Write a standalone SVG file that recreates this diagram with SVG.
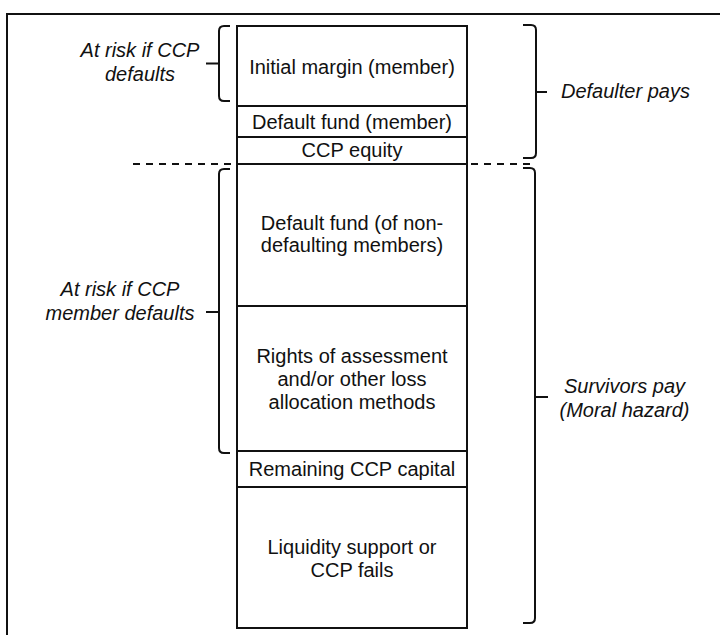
<svg xmlns="http://www.w3.org/2000/svg" width="720" height="635" viewBox="0 0 720 635">
<style>
.box{fill:#fff;stroke:#111;stroke-width:2}
.t{font-family:"Liberation Sans",Arial,sans-serif;font-size:20px;fill:#111;text-anchor:middle}
.i{font-style:italic}
.br{fill:none;stroke:#111;stroke-width:2}
</style>
<rect width="720" height="635" fill="#fff"/>
<path d="M7,635 V14 H720" fill="none" stroke="#111" stroke-width="2"/>
<g id="stack">
<g id="initial-margin"><rect class="box" x="237" y="26" width="230" height="80"/><text class="t" x="352" y="74">Initial margin (member)</text></g>
<g id="default-fund-member"><rect class="box" x="237" y="106" width="230" height="31"/><text class="t" x="352" y="129">Default fund (member)</text></g>
<g id="ccp-equity"><rect class="box" x="237" y="137" width="230" height="27"/><text class="t" x="352" y="157">CCP equity</text></g>
<g id="default-fund-nondefaulting"><rect class="box" x="237" y="164" width="230" height="142"/><text class="t" x="352" y="230">Default fund (of non-</text><text class="t" x="352" y="252">defaulting members)</text></g>
<g id="rights-of-assessment"><rect class="box" x="237" y="306" width="230" height="145"/><text class="t" x="352" y="363">Rights of assessment</text><text class="t" x="352" y="386">and/or other loss</text><text class="t" x="352" y="409">allocation methods</text></g>
<g id="remaining-capital"><rect class="box" x="237" y="451" width="230" height="36"/><text class="t" x="352" y="476">Remaining CCP capital</text></g>
<g id="liquidity-support"><rect class="box" x="237" y="487" width="230" height="141"/><text class="t" x="352" y="554">Liquidity support or</text><text class="t" x="352" y="577">CCP fails</text></g>
</g>
<g id="connectors">
<line x1="133" y1="164" x2="535" y2="164" stroke="#111" stroke-width="2" stroke-dasharray="7,6"/>
<path class="br" d="M230,26 H224 Q219,26 219,31 V96 Q219,101 224,101 H230 M219,63.5 H206"/>
<path class="br" d="M230,169 H224 Q219,169 219,174 V448 Q219,453 224,453 H230 M219,312 H206"/>
<path class="br" d="M523,25 H531 Q536,25 536,30 V153 Q536,158 531,158 H523 M536,92 H547"/>
<path class="br" d="M523,168 H530 Q535,168 535,173 V618 Q535,623 530,623 H523 M535,397 H548"/>
</g>
<g id="label-ccp-defaults"><text class="t i" x="140" y="57">At risk if CCP</text><text class="t i" x="140" y="81">defaults</text></g>
<g id="label-member-defaults"><text class="t i" x="120" y="296">At risk if CCP</text><text class="t i" x="120" y="320">member defaults</text></g>
<g id="label-defaulter-pays"><text class="t i" x="561" y="98" style="text-anchor:start">Defaulter pays</text></g>
<g id="label-survivors-pay"><text class="t i" x="624.5" y="393">Survivors pay</text><text class="t i" x="624.5" y="417">(Moral hazard)</text></g>
</svg>
